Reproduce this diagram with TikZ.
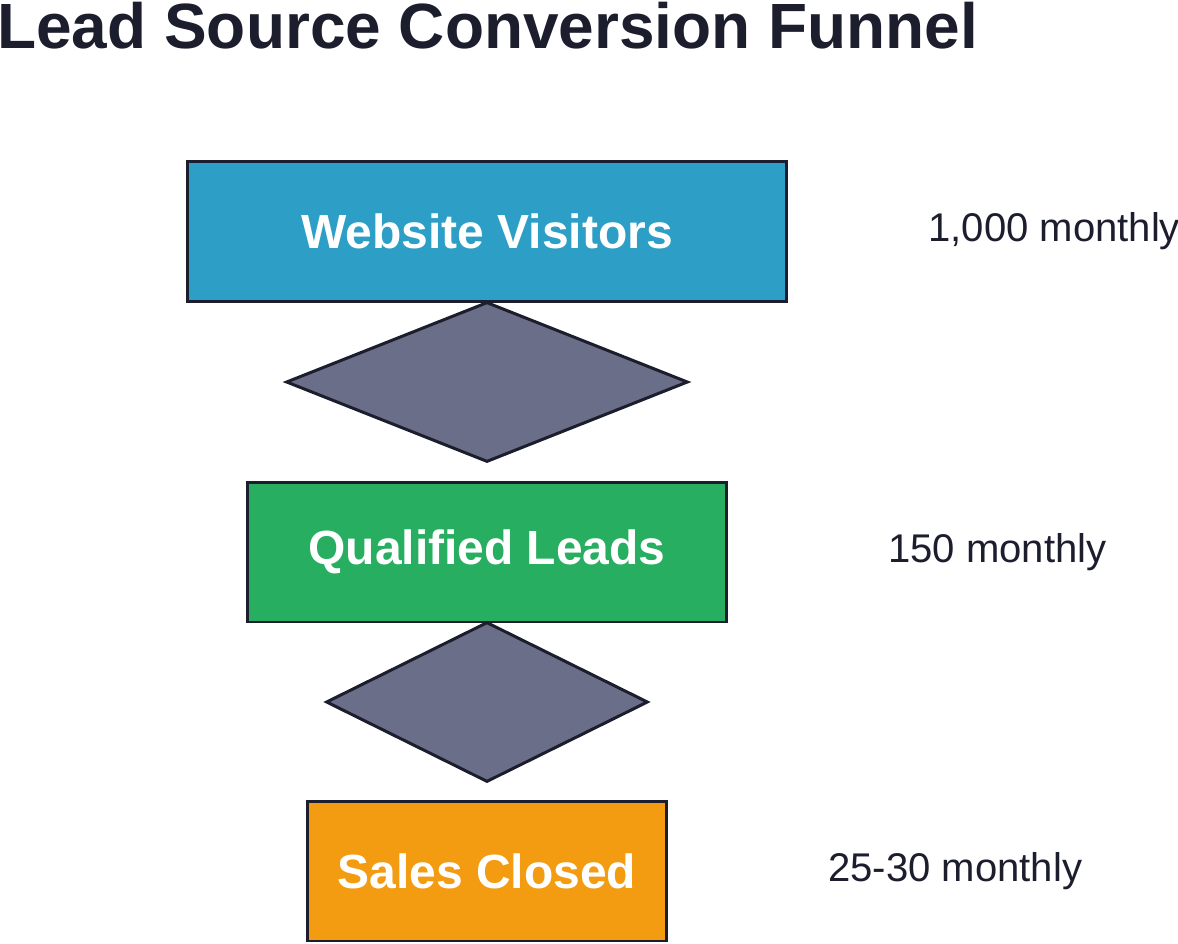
\documentclass[tikz,border=0pt]{standalone}
\usepackage{fontspec}
\setmainfont{Liberation Sans}
\usetikzlibrary{shapes.geometric}

\definecolor{inkdark}{HTML}{1C1E2D}
\definecolor{visitblue}{HTML}{2D9FC6}
\definecolor{leadgreen}{HTML}{27AE60}
\definecolor{saleorange}{HTML}{F39C12}
\definecolor{gategray}{HTML}{6A6E89}

\tikzset{
  stagebox/.style={rectangle,draw=inkdark,line width=1.7pt,inner sep=0pt,
    text=white,font=\fontsize{27.3}{32}\selectfont\bfseries},
  gate/.style={diamond,draw=inkdark,fill=gategray,line width=1.7pt,inner sep=0pt},
  countlabel/.style={anchor=west,inner sep=0pt,text=inkdark,
    font=\fontsize{22.8}{27}\selectfont},
}

\begin{document}
\begin{tikzpicture}[x=0.02cm,y=-0.02cm]
  \useasboundingbox (0,0) rectangle (1178,944);
  \node[anchor=base west,inner sep=0pt,text=inkdark,
    font=\fontsize{36.4}{42}\selectfont\bfseries] (title) at (-3,48)
    {Lead Source Conversion Funnel};

  % stages
  \node[stagebox,fill=visitblue,minimum width=12cm,minimum height=2.82cm]
    (visitors) at (487,231.5) {Website Visitors};
  \node[gate,minimum width=8.04cm,minimum height=3.2cm] (gateA) at (487,382) {};
  \node[stagebox,fill=leadgreen,minimum width=9.6cm,minimum height=2.8cm]
    (leads) at (487,552) {Qualified Leads};
  \node[gate,minimum width=6.44cm,minimum height=3.2cm] (gateB) at (487,702) {};
  \node[stagebox,fill=saleorange,minimum width=7.2cm,minimum height=2.8cm]
    (sales) at (487,871) {Sales Closed};

  % monthly counts
  \node[countlabel] (countA) at (928,231.5) {1,000 monthly};
  \node[countlabel] (countB) at (888,552) {150 monthly};
  \node[countlabel] (countC) at (828,871) {25-30 monthly};
\end{tikzpicture}
\end{document}
